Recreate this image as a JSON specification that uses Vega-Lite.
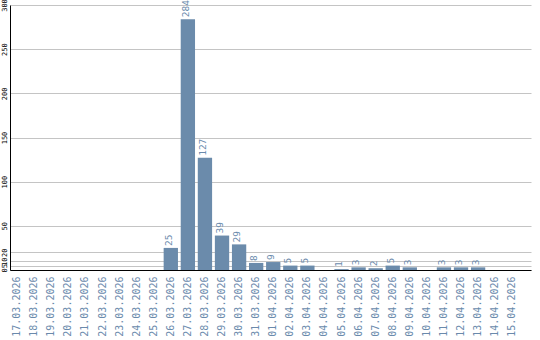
{
  "$schema": "https://vega.github.io/schema/vega-lite/v6.json",
  "width": 521,
  "height": 265,
  "autosize": "none",
  "padding": {"left": 10, "top": 5, "right": 9, "bottom": 70},
  "background": "white",
  "config": {"view": {"stroke": null}},
  "data": {
    "values": [
      {"date": "17.03.2026", "value": 0},
      {"date": "18.03.2026", "value": 0},
      {"date": "19.03.2026", "value": 0},
      {"date": "20.03.2026", "value": 0},
      {"date": "21.03.2026", "value": 0},
      {"date": "22.03.2026", "value": 0},
      {"date": "23.03.2026", "value": 0},
      {"date": "24.03.2026", "value": 0},
      {"date": "25.03.2026", "value": 0},
      {"date": "26.03.2026", "value": 25},
      {"date": "27.03.2026", "value": 284},
      {"date": "28.03.2026", "value": 127},
      {"date": "29.03.2026", "value": 39},
      {"date": "30.03.2026", "value": 29},
      {"date": "31.03.2026", "value": 8},
      {"date": "01.04.2026", "value": 9},
      {"date": "02.04.2026", "value": 5},
      {"date": "03.04.2026", "value": 5},
      {"date": "04.04.2026", "value": 0},
      {"date": "05.04.2026", "value": 1},
      {"date": "06.04.2026", "value": 3},
      {"date": "07.04.2026", "value": 2},
      {"date": "08.04.2026", "value": 5},
      {"date": "09.04.2026", "value": 3},
      {"date": "10.04.2026", "value": 0},
      {"date": "11.04.2026", "value": 3},
      {"date": "12.04.2026", "value": 3},
      {"date": "13.04.2026", "value": 3},
      {"date": "14.04.2026", "value": 0},
      {"date": "15.04.2026", "value": 0}
    ]
  },
  "encoding": {
    "x": {
      "field": "date",
      "type": "ordinal",
      "sort": null,
      "scale": {"paddingInner": 0.162, "paddingOuter": 0.34, "align": 0},
      "axis": {
        "title": null,
        "ticks": false,
        "grid": false,
        "domainColor": "black",
        "domainWidth": 1,
        "labelAngle": -90,
        "labelAlign": "right",
        "labelBaseline": "middle",
        "labelPadding": 6,
        "labelFont": "DejaVu Sans Mono",
        "labelFontSize": 10,
        "labelColor": "#6a8aac",
        "labelOverlap": false
      }
    },
    "y": {
      "field": "value",
      "type": "quantitative",
      "scale": {"domain": [0, 300], "nice": false},
      "axis": {
        "title": null,
        "values": [0, 5, 10, 20, 50, 100, 150, 200, 250, 300],
        "grid": true,
        "gridColor": "#c4c4c4",
        "gridWidth": 1,
        "ticks": false,
        "domainColor": "black",
        "domainWidth": 1,
        "labelAngle": -90,
        "labelAlign": "center",
        "labelBaseline": "bottom",
        "labelPadding": 3,
        "labelFont": "DejaVu Sans Mono",
        "labelFontSize": 7,
        "labelColor": "black",
        "labelOverlap": false,
        "labelBound": false
      }
    }
  },
  "layer": [
    {
      "mark": {"type": "bar", "color": "#6b8bab"}
    },
    {
      "transform": [{"filter": "datum.value > 0"}],
      "mark": {
        "type": "text",
        "angle": 270,
        "align": "left",
        "baseline": "top",
        "dx": 2,
        "font": "DejaVu Sans Mono",
        "fontSize": 9.5,
        "color": "#6a8aac"
      },
      "encoding": {
        "x": {"field": "date", "type": "ordinal", "sort": null, "bandPosition": 0},
        "text": {"field": "value", "type": "quantitative"}
      }
    }
  ]
}
